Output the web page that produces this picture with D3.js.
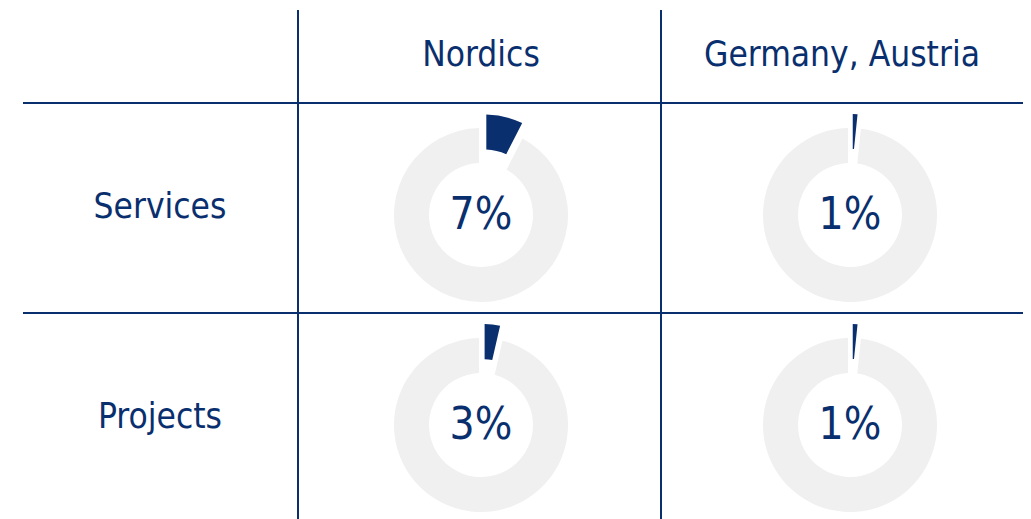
<!DOCTYPE html>
<html>
<head>
<meta charset="utf-8">
<script src="https://cdn.jsdelivr.net/npm/d3@7"></script>
<style>
  body { margin: 0; background: #fff; }
  text { font-family: "Liberation Sans Narrow", "DejaVu Sans Condensed", Roboto, sans-serif; fill: #0a2f6e; }
</style>
</head>
<body>
<svg id="chart" width="1031" height="519"></svg>
<script>
// data
var regions = ["Nordics", "Germany, Austria"];
var segments = ["Services", "Projects"];
var servicesShare = [7, 1];   // % per region
var projectsShare = [3, 1];

var navy = "#0a2f6e";
var grey = "#f0f0f0";

var svg = d3.select("#chart");

// layout scales
var x = d3.scaleOrdinal().domain(regions).range([481, 850]);
var y = d3.scaleOrdinal().domain(segments).range([215, 425]);

// grid lines
svg.append("line").attr("x1", 298).attr("x2", 298).attr("y1", 10).attr("y2", 519)
  .attr("stroke", navy).attr("stroke-width", 2);
svg.append("line").attr("x1", 661).attr("x2", 661).attr("y1", 10).attr("y2", 519)
  .attr("stroke", navy).attr("stroke-width", 2);
svg.append("line").attr("x1", 23).attr("x2", 1023).attr("y1", 103).attr("y2", 103)
  .attr("stroke", navy).attr("stroke-width", 2);
svg.append("line").attr("x1", 23).attr("x2", 1023).attr("y1", 313).attr("y2", 313)
  .attr("stroke", navy).attr("stroke-width", 2);

// headers
svg.selectAll("text.col").data(regions).enter().append("text")
  .attr("class", "col")
  .attr("x", function (d) { return x(d) - (d === regions[1] ? 8 : 0); })
  .attr("y", 66)
  .attr("text-anchor", "middle")
  .style("font-size", "35px")
  .text(function (d) { return d; });

svg.selectAll("text.row").data(segments).enter().append("text")
  .attr("class", "row")
  .attr("x", 160)
  .attr("y", function (d) { return y(d) + 3; })
  .attr("text-anchor", "middle")
  .style("font-size", "35px")
  .text(function (d) { return d; });

var pie = d3.pie().sort(null).padAngle(0.04).value(function (d) { return d; });
var arc = d3.arc().innerRadius(52).outerRadius(87);
var explode = 14;

var cells = [];
segments.forEach(function (s, i) {
  var vals = i === 0 ? servicesShare : projectsShare;
  regions.forEach(function (r, j) {
    cells.push({ seg: s, reg: r, value: vals[j] });
  });
});

var g = svg.selectAll("g.donut").data(cells).enter().append("g")
  .attr("class", "donut")
  .attr("transform", function (d) { return "translate(" + x(d.reg) + "," + y(d.seg) + ")"; });

g.each(function (d) {
  var node = d3.select(this);
  var slices = pie([d.value, 100 - d.value]);
  node.selectAll("path").data(slices).enter().append("path")
    .attr("d", arc)
    .attr("fill", function (p, k) { return k === 0 ? navy : grey; })
    .attr("transform", function (p, k) {
      if (k !== 0) return null;
      var a = (p.startAngle + p.endAngle) / 2;
      return "translate(" + (Math.sin(a) * explode) + "," + (-Math.cos(a) * explode) + ")";
    });
  node.append("text")
    .attr("x", 0)
    .attr("y", 14)
    .attr("text-anchor", "middle")
    .style("font-size", "44px")
    .text(d.value + "%");
});
</script>
</body>
</html>
